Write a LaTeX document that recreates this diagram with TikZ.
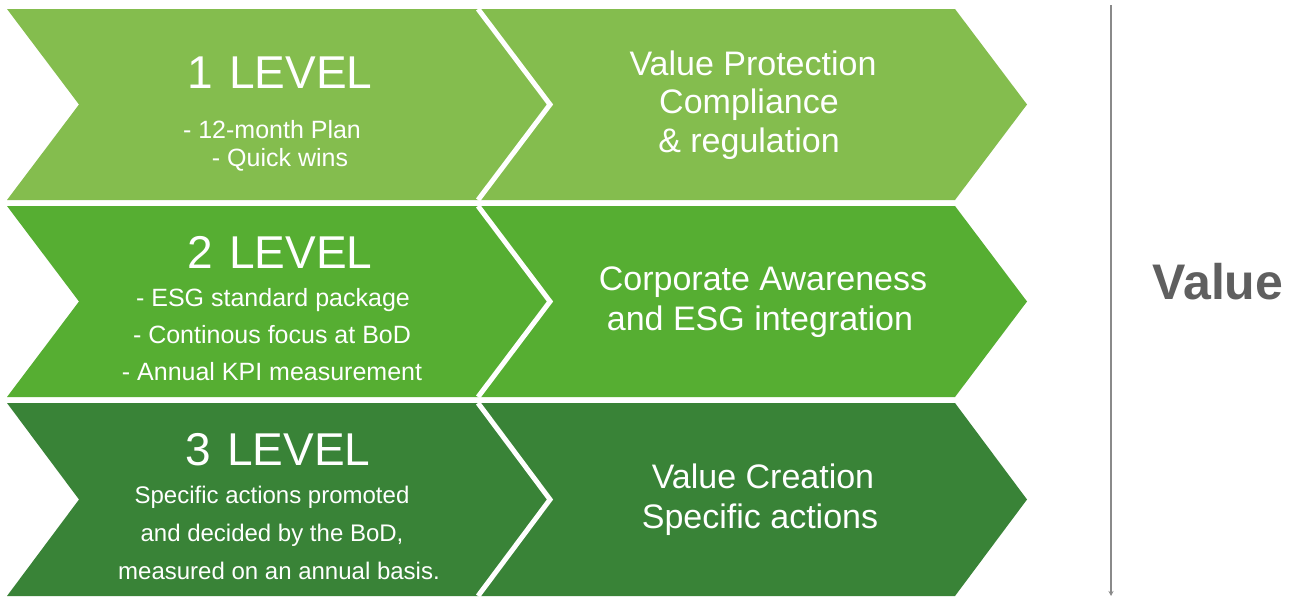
\documentclass[tikz,border=0pt]{standalone}
\usepackage{fontspec}
\setmainfont{Liberation Sans}
\usetikzlibrary{arrows.meta}
\definecolor{gA}{HTML}{84BD4E}
\definecolor{gB}{HTML}{56AE32}
\definecolor{gC}{HTML}{398337}
\definecolor{valgray}{HTML}{5F5F5F}
\definecolor{axisgray}{HTML}{8A8A8A}
\newcommand{\chevshape}[5]{% x0, x1, ytop, ybot, color
  \fill[#5] (#1,#3) -- (#2,#3) -- ({#2+72},{(#3+#4)/2}) -- (#2,#4) -- (#1,#4) -- ({#1+72},{(#3+#4)/2}) -- cycle;}
\newcommand{\sepline}[3]{% x, ytop, ybot
  \draw[white,line width=5pt,line join=miter] (#1,#2) -- ({#1+72},{(#2+#3)/2}) -- (#1,#3);}
\begin{document}
\begin{tikzpicture}[x=1pt,y=-1pt,
  lvl/.style={text=white,anchor=base,inner sep=0pt,font=\fontsize{46}{50}\selectfont},
  item/.style={text=white,anchor=base,inner sep=0pt,font=\fontsize{25}{29}\selectfont},
  itemsm/.style={text=white,anchor=base,inner sep=0pt,font=\fontsize{24}{28}\selectfont},
  ttl/.style={text=white,anchor=base,inner sep=0pt,font=\fontsize{34}{38}\selectfont}]
\useasboundingbox[fill=white] (0,0) rectangle (1293,597);
% row 1
\chevshape{478}{955}{9}{200}{gA}
\chevshape{7}{478}{9}{200}{gA}
\sepline{478}{9}{200}
% row 2
\chevshape{478}{955}{206}{397}{gB}
\chevshape{7}{478}{206}{397}{gB}
\sepline{478}{206}{397}
% row 3
\chevshape{478}{955}{403}{596}{gC}
\chevshape{7}{478}{403}{596}{gC}
\sepline{478}{403}{596}
% row 1 texts
\node[lvl] (l1) at (280,88) {1\hspace{0.35em}LEVEL};
\node[item] (l1a) at (272,138) {- 12-month Plan};
\node[item] (l1b) at (280,166) {- Quick wins};
\node[ttl] (r1a) at (753,75) {Value Protection};
\node[ttl] (r1b) at (749,113) {Compliance};
\node[ttl] (r1c) at (749,152) {\& regulation};
% row 2 texts
\node[lvl] (l2) at (280,268) {2\hspace{0.35em}LEVEL};
\node[item] (l2a) at (273,306) {- ESG standard package};
\node[item] (l2b) at (272,343) {- Continous focus at BoD};
\node[item] (l2c) at (272,380) {- Annual KPI measurement};
\node[ttl] (r2a) at (763,290) {Corporate Awareness};
\node[ttl] (r2b) at (760,330) {and ESG integration};
% row 3 texts
\node[lvl] (l3) at (278,465) {3\hspace{0.35em}LEVEL};
\node[itemsm] (l3a) at (272,503) {Specific actions promoted};
\node[itemsm] (l3b) at (272,541) {and decided by the BoD,};
\node[itemsm] (l3c) at (279,579) {measured on an annual basis.};
\node[ttl] (r3a) at (763,488) {Value Creation};
\node[ttl] (r3b) at (760,528) {Specific actions};
% axis
\coordinate (atop) at (1111,5);
\coordinate (abot) at (1111,596);
\draw[axisgray,line width=1.2pt,-{Stealth[length=5pt,width=5pt]}] (atop) -- (abot);
\node[text=valgray,anchor=base,inner sep=0pt,font=\fontsize{50}{56}\selectfont\bfseries] (val) at (1218,299) {Value};
\end{tikzpicture}
\end{document}
